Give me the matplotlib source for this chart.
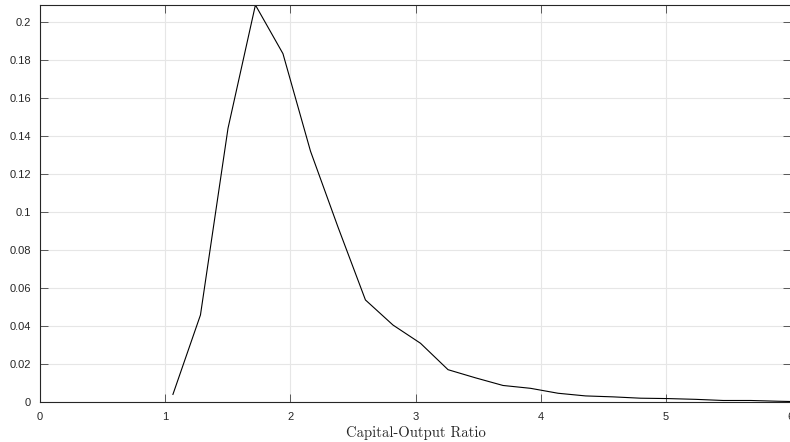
import matplotlib
matplotlib.use("Agg")
import matplotlib.pyplot as plt
import numpy as np

# Distribution of the capital-output ratio
ratio = [1.062, 1.282, 1.502, 1.721, 1.941, 2.161, 2.381, 2.600, 2.820, 3.040,
         3.260, 3.480, 3.699, 3.919, 4.139, 4.359, 4.579, 4.798, 5.018, 5.238,
         5.458, 5.678, 5.898, 6.118]
density = [0.0040, 0.0458, 0.1440, 0.2089, 0.1833, 0.1320, 0.0920, 0.0537,
           0.0405, 0.0309, 0.0170, 0.0127, 0.0087, 0.0072, 0.0046, 0.0032,
           0.0027, 0.0020, 0.0018, 0.0014, 0.0008, 0.0008, 0.0004, 0.0001]

xticks = [0, 1, 2, 3, 4, 5, 6]
yticks = [0, 0.02, 0.04, 0.06, 0.08, 0.1, 0.12, 0.14, 0.16, 0.18, 0.2]
ytick_labels = ["0", "0.02", "0.04", "0.06", "0.08", "0.1", "0.12", "0.14",
                "0.16", "0.18", "0.2"]

fig = plt.figure(figsize=(7.9, 4.42), dpi=100)
ax = fig.add_axes([40 / 790, 40 / 442, 751 / 790, 397 / 442])

ax.plot(ratio, density, color="black", lw=0.8)

ax.set_xlim(0, 6)
ax.set_ylim(0, max(density))
ax.set_xticks(xticks)
ax.set_xticklabels([str(t) for t in xticks])
ax.set_yticks(yticks)
ax.set_yticklabels(ytick_labels)

ax.grid(True, color="#e6e6e6", lw=0.8)
ax.set_axisbelow(True)

for side in ax.spines.values():
    side.set_color("#262626")
    side.set_linewidth(0.8)

ax.tick_params(direction="in", length=5.5, width=0.6, color="#404040",
               top=True, right=True, labelsize=8, labelcolor="#262626",
               labelfontfamily="Liberation Sans")
ax.tick_params(axis="x", pad=7.5)
ax.tick_params(axis="y", pad=6.5)

ax.set_xlabel("Capital-Output Ratio", family="cmr10", fontsize=10.5,
              color="#262626", labelpad=2.5)

fig.savefig("out.png", dpi=100)
